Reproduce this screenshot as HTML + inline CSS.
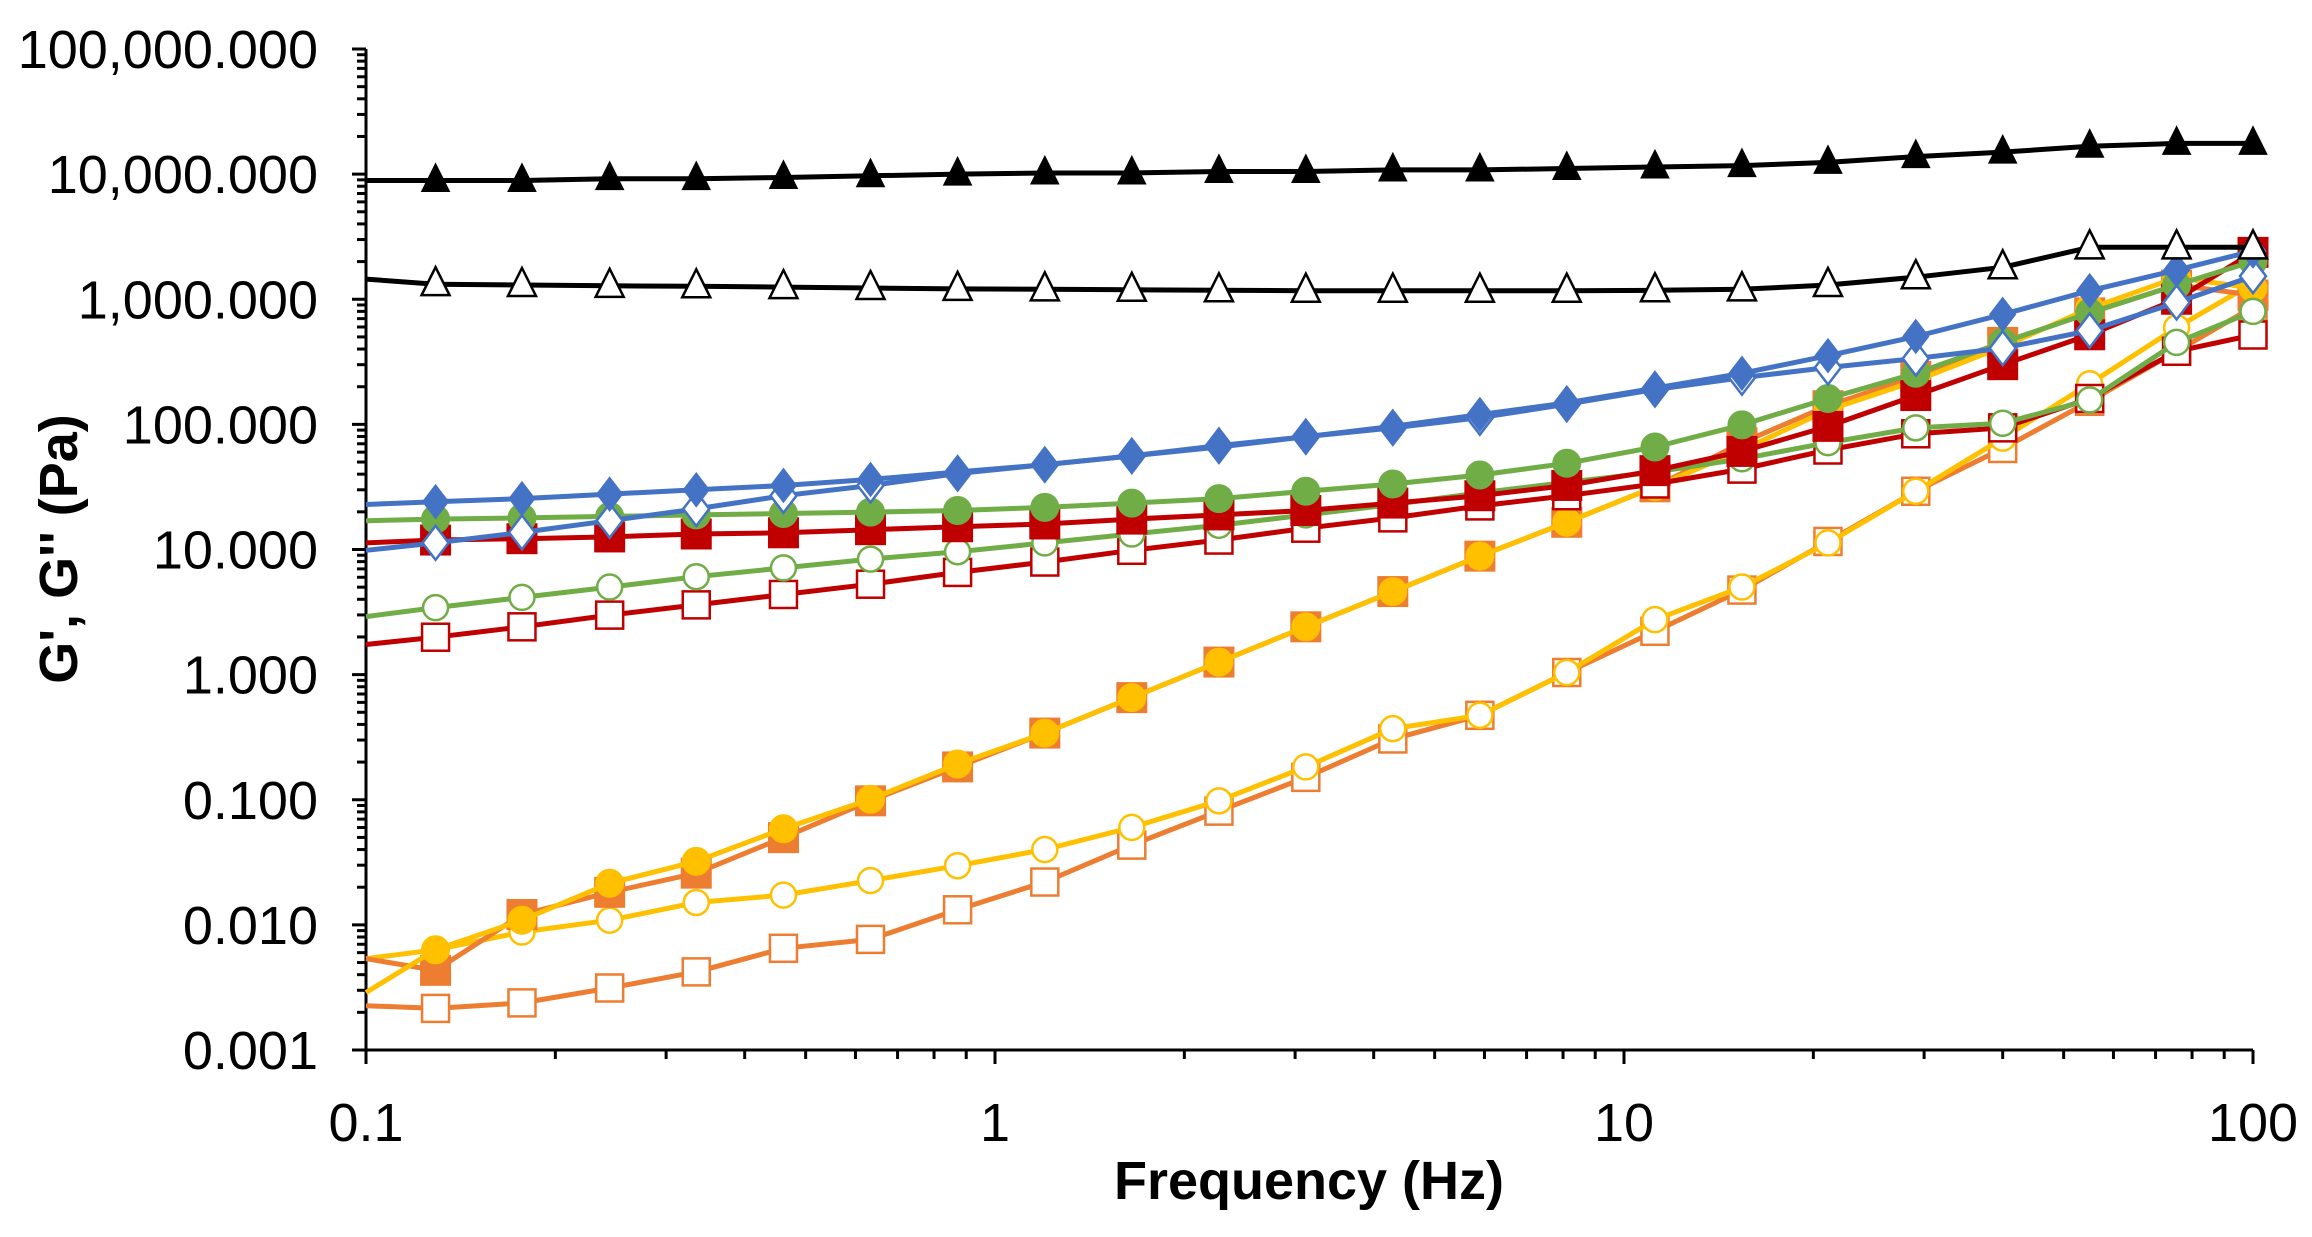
<!DOCTYPE html>
<html><head><meta charset="utf-8"><style>
html,body{margin:0;padding:0;background:#fff;}
svg{display:block;font-family:"Liberation Sans",Arial,sans-serif;}
</style></head><body>
<svg id="chart" width="2312" height="1237" viewBox="0 0 2312 1237" xmlns="http://www.w3.org/2000/svg">
<g id="axes"></g>
<g id="series"></g>
<text x="1309" y="1199" font-size="54" font-weight="bold" text-anchor="middle">Frequency (Hz)</text>
<text transform="translate(77,549) rotate(-90)" font-size="54" font-weight="bold" text-anchor="middle">G', G'' (Pa)</text>
</svg>
<script>
const freqs=[0.1,0.129,0.177,0.244,0.335,0.461,0.634,0.872,1.2,1.65,2.27,3.12,4.29,5.9,8.11,11.2,15.4,21.1,29.1,40,55,75.6,100];
const blackFilled=[8900,8900,8900,9200,9200,9400,9700,10000,10200,10200,10500,10500,10800,10800,11100,11400,11700,12400,13800,15000,16700,17600,17600];
const blackOpen=[1450,1320,1300,1280,1270,1250,1230,1210,1200,1190,1180,1170,1170,1170,1170,1180,1200,1300,1500,1800,2600,2600,2600];
const blueFilled=[22.9,24.1,25.5,27.7,30.0,32.5,36.3,41.6,47.6,56.0,65.9,79.7,96.4,119.7,148.6,195,256,354,504,757,1170,1710,2430];
const blueOpen=[9.86,11.3,13.7,17.0,21.1,26.9,32.5,40.5,47.6,56,67.7,79.7,93.8,113,145,190,236,285,336,406,562,942,1530];
const greenFilled=[17.0,17.5,17.9,18.4,18.9,19.4,19.9,20.5,21.7,23.5,25.5,29.2,33.4,39.4,48.9,65.9,99,161,256,452,778,1300,2010];
const greenOpen=[2.91,3.43,4.14,5.01,6.06,7.13,8.38,9.60,11.3,13.3,15.6,18.9,22.9,28.4,34.4,41.6,53.1,71.4,93.8,102,157,452,800];
const redFilled=[11.3,11.9,12.2,12.6,13.3,13.6,14.4,15.2,16.0,17.5,18.9,20.5,23.5,26.9,32.5,42.7,60.8,96.4,170,300,520,1000,2370];
const redOpen=[1.74,1.99,2.41,2.99,3.61,4.37,5.28,6.56,7.94,9.86,11.9,14.8,17.9,22.3,26.9,33.4,43.9,62.4,84.1,93.8,161,384,518];
const orangeFilled=[0.00537,0.00433,0.0121,0.0182,0.0259,0.0498,0.098,0.183,0.341,0.655,1.26,2.41,4.61,8.85,16.5,31.7,71.4,141,242,452,778,1300,1080];
const orangeOpen=[0.00226,0.00215,0.00238,0.00313,0.00421,0.0065,0.00766,0.0132,0.0220,0.0434,0.0811,0.151,0.306,0.473,1.04,2.22,4.74,11.6,29.2,64.2,153,384,867];
const yellowFilled=[0.00288,0.00632,0.0109,0.0215,0.0322,0.0586,0.101,0.193,0.341,0.655,1.26,2.41,4.61,8.85,16.5,31.7,62.4,130,223,417,843,1490,1230];
const yellowOpen=[0.00537,0.00632,0.00877,0.0109,0.0151,0.0173,0.0226,0.0297,0.040,0.0601,0.098,0.183,0.370,0.473,1.04,2.75,5.01,11.3,29.2,77.6,211,593,1340];
const yTickLabels=["100,000.000","10,000.000","1,000.000","100.000","10.000","1.000","0.100","0.010","0.001"];
const yTickValues=[100000,10000,1000,100,10,1,0.1,0.01,0.001];
const xTickLabels=["0.1","1","10","100"];
const xTickValues=[0.1,1,10,100];

const NS="http://www.w3.org/2000/svg";
const X0=366,X1=2253,Y0=49,Y1=1050;
function xs(f){return X0+(Math.log10(f)+1)*(X1-X0)/3;}
function ys(v){return Y0+(5-Math.log10(v))*(Y1-Y0)/8;}
function mk(tag,attrs,parent){const e=document.createElementNS(NS,tag);for(const k in attrs)e.setAttribute(k,attrs[k]);parent.appendChild(e);return e;}
const axes=document.getElementById('axes');
let yl=mk('line',{x1:X0,y1:Y0,x2:X0,y2:Y1,stroke:'#000','stroke-width':3},axes);


let xl=mk('line',{x1:X0,y1:Y1,x2:X1,y2:Y1,stroke:'#000','stroke-width':3},axes);


for(let d=-3;d<5;d++){for(let m=1;m<10;m++){const v=m*Math.pow(10,d);const y=ys(v);
 const t=mk('line',{x1:X0-(m===1?14:9),y1:y,x2:X0,y2:y,stroke:'#000','stroke-width':3},axes);
 
 }}
mk('line',{x1:X0-14,y1:ys(100000),x2:X0,y2:ys(100000),stroke:'#000','stroke-width':3},axes);
yTickValues.forEach((v,i)=>{const t=mk('text',{x:318,y:ys(v)+19,'font-size':54,'text-anchor':'end'},axes);t.textContent=yTickLabels[i];
 
 });
for(let d=-1;d<2;d++){for(let m=1;m<10;m++){const f=m*Math.pow(10,d);const x=xs(f);
 const t=mk('line',{x1:x,y1:Y1,x2:x,y2:Y1+(m===1?14:9),stroke:'#000','stroke-width':3},axes);
 
 }}
mk('line',{x1:xs(100),y1:Y1,x2:xs(100),y2:Y1+14,stroke:'#000','stroke-width':3},axes);
xTickValues.forEach((v,i)=>{const t=mk('text',{x:xs(v),y:1141,'font-size':54,'text-anchor':'middle'},axes);t.textContent=xTickLabels[i];
 
 });

const sg=document.getElementById('series');
function marker(g,shape,x,y,color,filled){
 const fill=filled?color:'#fff';const sw=filled?1:2.5;let e;
 if(shape==='tri'){e=mk('polygon',{points:`${x},${y-17} ${x-14},${y+11} ${x+14},${y+11}`,fill:fill,stroke:color,'stroke-width':sw},g);}
 else if(shape==='dia'){e=mk('polygon',{points:`${x},${y-17} ${x+13},${y} ${x},${y+17} ${x-13},${y}`,fill:fill,stroke:color,'stroke-width':sw},g);}
 else if(shape==='circ'){e=mk('circle',{cx:x,cy:y,r:filled?14:12.5,fill:fill,stroke:color,'stroke-width':sw},g);}
 else {const s=filled?30:27;e=mk('rect',{x:x-s/2,y:y-s/2,width:s,height:s,fill:fill,stroke:color,'stroke-width':sw},g);}
 
 
}
function series(name,vals,color,shape,filled){
 const g=mk('g',{},sg);
 
 
 const pts=vals.map((v,i)=>xs(freqs[i]).toFixed(1)+','+ys(v).toFixed(1)).join(' ');
 const pl=mk('polyline',{points:pts,fill:'none',stroke:color,'stroke-width':5,'stroke-linejoin':'round'},g);
 
 
 vals.forEach((v,i)=>{if(i>0)marker(g,shape,xs(freqs[i]),ys(v),color,filled);});
}
series('orange-open-series',orangeOpen,'#ED7D31','sq',false);
series('yellow-open-series',yellowOpen,'#FFC000','circ',false);
series('orange-filled-series',orangeFilled,'#ED7D31','sq',true);
series('yellow-filled-series',yellowFilled,'#FFC000','circ',true);
series('red-open-series',redOpen,'#C00000','sq',false);
series('green-open-series',greenOpen,'#70AD47','circ',false);
series('red-filled-series',redFilled,'#C00000','sq',true);
series('green-filled-series',greenFilled,'#70AD47','circ',true);
series('blue-open-series',blueOpen,'#4472C4','dia',false);
series('blue-filled-series',blueFilled,'#4472C4','dia',true);
series('black-open-series',blackOpen,'#000000','tri',false);
series('black-filled-series',blackFilled,'#000000','tri',true);
</script>
</body></html>
